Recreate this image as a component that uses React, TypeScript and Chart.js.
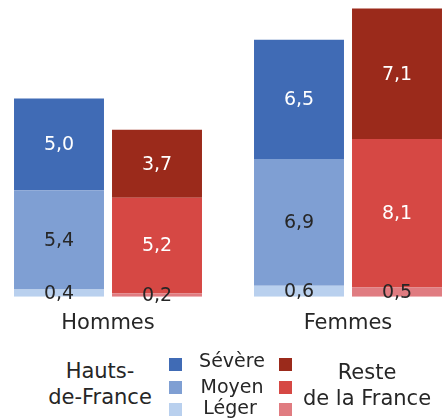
import React, { useEffect, useRef } from "react";
import { Chart, registerables } from "chart.js";

Chart.register(...registerables);

const categories = ["Hommes", "Femmes"];
const hdfLeger = [0.4, 0.6];
const hdfMoyen = [5.4, 6.9];
const hdfSevere = [5.0, 6.5];
const resteLeger = [0.2, 0.5];
const resteMoyen = [5.2, 8.1];
const resteSevere = [3.7, 7.1];

const FONT = "'DejaVu Sans', sans-serif";
const TEXT = "#262626";

const C = {
  hdfSevere: "#406bb5",
  hdfMoyen: "#7f9fd3",
  hdfLeger: "#b9d0ee",
  resteSevere: "#9b2a1b",
  resteMoyen: "#d64844",
  resteLeger: "#e07c81",
};

const valueLabels = {
  id: "valueLabels",
  afterDatasetsDraw(chart: any) {
    const ctx = chart.ctx;
    ctx.save();
    ctx.font = `19px ${FONT}`;
    ctx.textAlign = "center";
    ctx.textBaseline = "middle";
    chart.data.datasets.forEach((ds: any, i: number) => {
      const meta = chart.getDatasetMeta(i);
      meta.data.forEach((el: any, j: number) => {
        const p = el.getProps(["x", "y", "base"], true);
        const v = ds.data[j];
        ctx.fillStyle = ds.labelColor;
        ctx.fillText(v.toFixed(1).replace(".", ","), p.x, (p.y + p.base) / 2 + 1);
      });
    });
    ctx.restore();
  },
};

export default function App() {
  const ref = useRef<HTMLCanvasElement>(null);

  useEffect(() => {
    if (!ref.current) return;
    const chart = new Chart(ref.current, {
      type: "bar",
      data: {
        labels: categories,
        datasets: [
          { label: "Léger", data: hdfLeger, backgroundColor: C.hdfLeger, stack: "hdf", labelColor: TEXT } as any,
          { label: "Moyen", data: hdfMoyen, backgroundColor: C.hdfMoyen, stack: "hdf", labelColor: TEXT } as any,
          { label: "Sévère", data: hdfSevere, backgroundColor: C.hdfSevere, stack: "hdf", labelColor: "#ffffff" } as any,
          { label: "Léger", data: resteLeger, backgroundColor: C.resteLeger, stack: "reste", labelColor: TEXT } as any,
          { label: "Moyen", data: resteMoyen, backgroundColor: C.resteMoyen, stack: "reste", labelColor: "#ffffff" } as any,
          { label: "Sévère", data: resteSevere, backgroundColor: C.resteSevere, stack: "reste", labelColor: "#ffffff" } as any,
        ],
      },
      options: {
        responsive: false,
        animation: false,
        layout: { padding: { top: 3, left: 0, right: 0, bottom: 0 } },
        datasets: { bar: { categoryPercentage: 0.8167, barPercentage: 0.918 } },
        plugins: { legend: { display: false }, tooltip: { enabled: false } },
        scales: {
          x: {
            stacked: true,
            grid: { display: false, drawTicks: false },
            border: { display: false },
            ticks: { color: TEXT, font: { family: FONT, size: 21, lineHeight: 1.2 }, padding: 14 },
          },
          y: { stacked: true, display: false, min: 0, max: 16 },
        },
      },
      plugins: [valueLabels],
    });
    return () => chart.destroy();
  }, []);

  const txt = (s: React.CSSProperties): React.CSSProperties => ({
    position: "absolute",
    fontFamily: FONT,
    color: TEXT,
    textAlign: "center",
    whiteSpace: "nowrap",
    ...s,
  });
  const sq = (left: number, top: number, bg: string): React.CSSProperties => ({
    position: "absolute",
    left,
    top,
    width: 13,
    height: 13,
    background: bg,
  });

  return (
    <div style={{ position: "fixed", left: 0, top: 0, width: 442, height: 418, overflow: "hidden", background: "#fff" }}>
      <canvas ref={ref} width={480} height={350} style={{ position: "absolute", left: -12, top: 0, width: 480, height: 350 }} />
      <div style={txt({ left: 40, width: 120, top: 358, fontSize: 21, lineHeight: "26px" })}>
        Hauts-<br />de-France
      </div>
      <div style={txt({ left: 297, width: 140, top: 359, fontSize: 21, lineHeight: "26px" })}>
        Reste<br />de la France
      </div>
      <div style={txt({ left: 182, width: 100, top: 349, fontSize: 19, lineHeight: "22px" })}>Sévère</div>
      <div style={txt({ left: 182, width: 100, top: 375, fontSize: 19, lineHeight: "22px" })}>Moyen</div>
      <div style={txt({ left: 180, width: 100, top: 396, fontSize: 19, lineHeight: "22px" })}>Léger</div>
      <div style={sq(169, 358, C.hdfSevere)} />
      <div style={sq(169, 381, C.hdfMoyen)} />
      <div style={sq(169, 403, C.hdfLeger)} />
      <div style={sq(279, 358, C.resteSevere)} />
      <div style={sq(279, 381, C.resteMoyen)} />
      <div style={sq(279, 403, C.resteLeger)} />
    </div>
  );
}
